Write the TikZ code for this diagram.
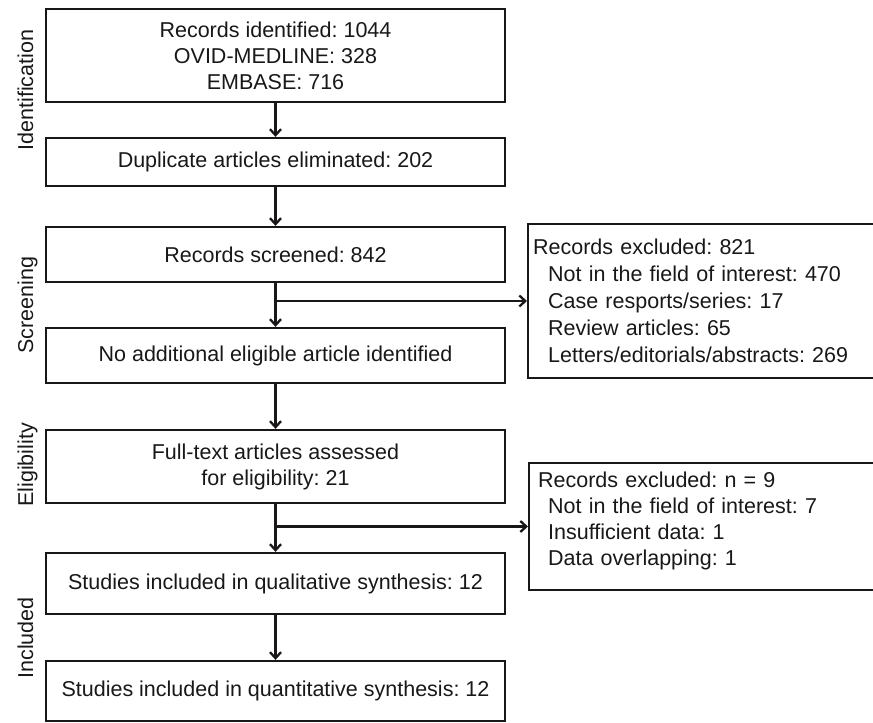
\documentclass[tikz,border=0pt]{standalone}
\usepackage{fontspec}
\setmainfont{Liberation Sans}
\usetikzlibrary{arrows.meta}
\definecolor{ink}{RGB}{25,23,24}
\frenchspacing
\begin{document}
\begin{tikzpicture}[x=1pt,y=-1pt,
  every node/.style={font=\fontsize{21.5}{26}\selectfont, text=ink},
  box/.style={draw=ink, line width=2.3pt, minimum width=459pt, inner sep=0pt, align=center},
  xbox/.style={draw=ink, line width=2.3pt, align=left, inner ysep=0pt, anchor=west},
  side/.style={rotate=90, anchor=base, inner sep=0pt},
  arr/.style={draw=ink, line width=2.3pt, -{Straight Barb[length=6pt,width=11pt]}}]
\useasboundingbox (0,0) rectangle (873,723);
\clip (0,0) rectangle (873,723);

% main column
\node[box, minimum height=93pt] (b1) at (275.5,55.5) {Records identified: 1044\\OVID-MEDLINE: 328\\EMBASE: 716};
\node[box, minimum height=48pt] (b2) at (275.5,162) {Duplicate articles eliminated: 202};
\node[box, minimum height=55pt] (b3) at (275.5,254.5) {Records screened: 842};
\node[box, minimum height=55pt] (b4) at (275.5,355.5) {No additional eligible article identified};
\node[box, minimum height=73pt] (b5) at (275.5,466.5) {Full-text articles assessed\\for eligibility: 21};
\node[box, minimum height=61pt] (b6) at (275.5,583.5) {Studies included in qualitative synthesis: 12};
\node[box, minimum height=60pt] (b7) at (275.5,691) {Studies included in quantitative synthesis: 12};

% exclusion boxes
\node[xbox, minimum width=353pt, minimum height=154pt, text width=343pt, inner xsep=5pt,
      font=\fontsize{21.5}{27}\selectfont] (rA) at (527,301)
  {Records excluded: 821\\
   \hspace*{15pt}Not in the field of interest: 470\\
   \hspace*{15pt}Case resports/series: 17\\
   \hspace*{15pt}Review articles: 65\\
   \hspace*{15pt}Letters/editorials/abstracts: 269};
\node[xbox, minimum width=352pt, minimum height=127pt, text width=334pt, inner xsep=9pt] (rB) at (528,526.5)
  {Records excluded: n = 9\\
   \hspace*{10pt}Not in the field of interest: 7\\
   \hspace*{10pt}Insufficient data: 1\\
   \hspace*{10pt}Data overlapping: 1\rule[-15pt]{0pt}{15pt}};

% side labels
\node[side] (s1) at (33,90) {Identification};
\node[side] (s2) at (33,305) {Screening};
\node[side] (s3) at (33,465) {Eligibility};
\node[side] (s4) at (33,638) {Included};

% connectors
\draw[arr] (b1) -- (b2);
\draw[arr] (b2) -- (b3);
\draw[arr] (b3) -- (b4);
\draw[arr] (b4) -- (b5);
\draw[arr] (b5) -- (b6);
\draw[arr] (b6) -- (b7);
\coordinate (j1) at (b3.south |- rA.west);
\coordinate (j2) at (b5.south |- rB.west);
\draw[arr] (j1) -- (rA.west);
\draw[arr] (j2) -- (rB.west);
\end{tikzpicture}
\end{document}
